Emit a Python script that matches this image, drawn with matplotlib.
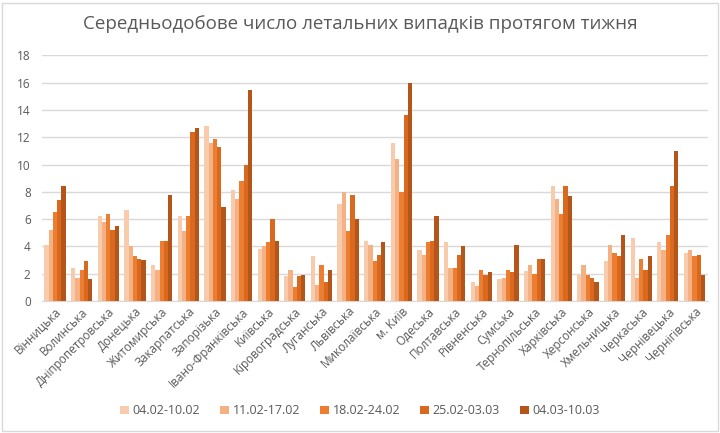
import numpy as np
import matplotlib.pyplot as plt

# -----------------------------
# Data
# -----------------------------
regions = ["Вінницька", "Волинська", "Дніпропетровська", "Донецька", "Житомирська",
           "Закарпатська", "Запорізька", "Івано-Франківська", "Київська", "Кіровоградська",
           "Луганська", "Львівська", "Миколаївська", "м. Київ", "Одеська", "Полтавська",
           "Рівненська", "Сумська", "Тернопільська", "Харківська", "Херсонська",
           "Хмельницька", "Черкаська", "Чернівецька", "Чернігівська"]

weeks = ["04.02-10.02", "11.02-17.02", "18.02-24.02", "25.02-03.03", "04.03-10.03"]

week1 = [4.1, 2.4, 6.2, 6.7, 2.6, 6.2, 12.8, 8.1, 3.8, 1.8, 3.3, 7.1, 4.4, 11.6, 3.7,
         4.3, 1.4, 1.6, 2.2, 8.4, 1.9, 2.9, 4.6, 4.3, 3.5]
week2 = [5.2, 1.7, 5.8, 4.0, 2.3, 5.1, 11.6, 7.5, 4.0, 2.3, 1.2, 8.0, 4.1, 10.4, 3.4,
         2.4, 1.1, 1.7, 2.6, 7.5, 2.6, 4.1, 1.7, 3.7, 3.7]
week3 = [6.5, 2.3, 6.4, 3.3, 4.4, 6.2, 11.9, 8.8, 4.3, 1.0, 2.6, 5.1, 2.9, 8.0, 4.3,
         2.4, 2.3, 2.3, 2.0, 6.4, 1.9, 3.5, 3.1, 4.8, 3.3]
week4 = [7.4, 2.9, 5.2, 3.1, 4.4, 12.4, 11.3, 10.0, 6.0, 1.8, 1.4, 7.8, 3.4, 13.6, 4.4,
         3.4, 1.9, 2.1, 3.1, 8.4, 1.7, 3.3, 2.3, 8.4, 3.4]
week5 = [8.4, 1.6, 5.5, 3.0, 7.8, 12.7, 6.9, 15.5, 4.4, 1.9, 2.3, 6.0, 4.3, 16.0, 6.2,
         4.0, 2.1, 4.1, 3.1, 7.7, 1.4, 4.8, 3.3, 11.0, 1.9]

series = [week1, week2, week3, week4, week5]
colors = ["#F8CBAD", "#F4B183", "#ED7D31", "#D9691F", "#B4561A"]

# -----------------------------
# Plot
# -----------------------------
plt.rcParams["font.family"] = ["Open Sans", "DejaVu Sans"]

fig = plt.figure(figsize=(7.2, 4.33), dpi=100)
ax = fig.add_axes([0.058, 0.305, 0.925, 0.567])

x = np.arange(len(regions))
width = 0.16
for i, (vals, col) in enumerate(zip(series, colors)):
    ax.bar(x + (i - 2) * width, vals, width=width, color=col, label=weeks[i], zorder=3)

ax.set_ylim(0, 18)
ax.set_yticks(range(0, 19, 2))
ax.set_xlim(-0.5, len(regions) - 0.5)
ax.set_xticks(x)
ax.set_xticklabels(regions, rotation=45, ha="right", rotation_mode="anchor",
                   fontsize=8.5, color="#595959")
ax.tick_params(axis="y", labelsize=8.5, labelcolor="#595959", length=0, pad=8)
ax.tick_params(axis="x", length=0, pad=3)
ax.grid(axis="y", color="#D9D9D9", linewidth=1, zorder=0)
for side in ["top", "right", "left"]:
    ax.spines[side].set_visible(False)
ax.spines["bottom"].set_color("#D9D9D9")

fig.suptitle("Середньодобове число летальних випадків протягом тижня",
             x=0.5, y=0.965, fontsize=13.5, color="#595959")

fig.legend(loc="lower center", bbox_to_anchor=(0.5, 0.01), ncol=5, frameon=False,
           fontsize=9, handlelength=0.7, handleheight=0.7, columnspacing=1.6,
           handletextpad=0.3, labelcolor="#595959")

# outer chart border
fig.patches.append(plt.Rectangle((0.003, 0.004), 0.994, 0.99, transform=fig.transFigure,
                                 fill=False, edgecolor="#D9D9D9", linewidth=1))

fig.savefig("out.png", dpi=100)
